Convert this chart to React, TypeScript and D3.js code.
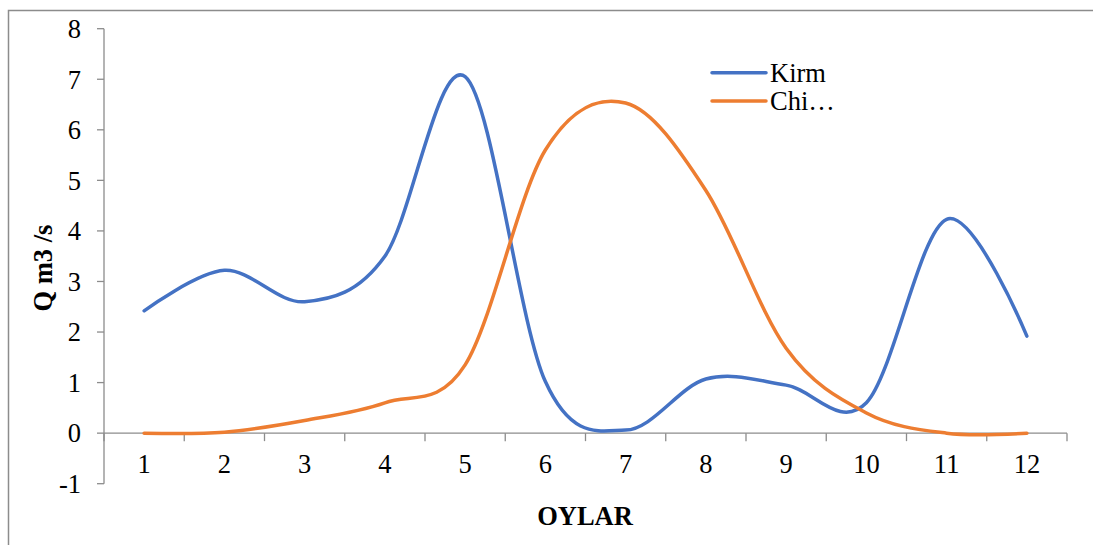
import * as d3 from "d3";

const months = ["1", "2", "3", "4", "5", "6", "7", "8", "9", "10", "11", "12"];
const kirm = [2.42, 3.22, 2.6, 3.5, 7.05, 1.02, 0.06, 1.07, 0.95, 0.6, 4.23, 1.92];
const chiqim = [0, 0.02, 0.25, 0.6, 1.35, 5.6, 6.53, 4.8, 1.68, 0.4, 0, 0];
const yTicks = [-1, 0, 1, 2, 3, 4, 5, 6, 7, 8];

const series = [
  { name: "Kirm", values: kirm, color: "#4472C4" },
  { name: "Chi…", values: chiqim, color: "#ED7D31" },
];

const W = 1093;
const H = 545;
const axisColor = "#8c8c8c";
const font = "'Liberation Serif', 'Times New Roman', serif";
const fs = 26.5;

export default function App() {
  const x = d3.scaleBand<string>().domain(months).range([104, 1067]);
  const y = d3.scaleLinear().domain([-1, 8]).range([483.7, 28.7]);
  const cx = (m: string) => (x(m) ?? 0) + x.bandwidth() / 2;

  const line = d3
    .line<number>()
    .x((_, i) => cx(months[i]))
    .y((d) => y(d))
    .curve(d3.curveCardinal.tension(0));

  const x0 = x.range()[0];
  const x1 = x.range()[1];

  return (
    <svg
      width={W}
      height={H}
      style={{ position: "absolute", left: 0, top: 0, background: "#fff" }}
      fontFamily={font}
    >
      <rect x={8.5} y={10.5} width={1200} height={600} fill="none" stroke="#8c8c8c" strokeWidth={1.5} />

      {/* y axis */}
      <line x1={x0} x2={x0} y1={y(8)} y2={y(-1)} stroke={axisColor} strokeWidth={1.3} />
      {yTicks.map((t) => (
        <g key={t}>
          <line x1={x0 - 7} x2={x0} y1={y(t)} y2={y(t)} stroke={axisColor} strokeWidth={1.3} />
          <text x={81} y={y(t)} dy="0.35em" textAnchor="end" fontSize={fs} fill="#000">
            {t}
          </text>
        </g>
      ))}

      {/* x axis at zero */}
      <line x1={x0} x2={x1} y1={y(0)} y2={y(0)} stroke={axisColor} strokeWidth={1.3} />
      {months.map((m) => (
        <line key={"t" + m} x1={x(m)!} x2={x(m)!} y1={y(0)} y2={y(0) + 8} stroke={axisColor} strokeWidth={1.3} />
      ))}
      <line x1={x1} x2={x1} y1={y(0)} y2={y(0) + 8} stroke={axisColor} strokeWidth={1.3} />
      {months.map((m) => (
        <text key={"l" + m} x={cx(m)} y={473} textAnchor="middle" fontSize={fs} fill="#000">
          {m}
        </text>
      ))}

      {/* series */}
      {series.map((s) => (
        <path
          key={s.name}
          d={line(s.values) ?? ""}
          fill="none"
          stroke={s.color}
          strokeWidth={3.5}
          strokeLinecap="round"
        />
      ))}

      {/* axis titles */}
      <text
        transform={`translate(${52},${268}) rotate(-90)`}
        textAnchor="middle"
        fontSize={fs}
        fontWeight="bold"
        fill="#000"
      >
        Q m3 /s
      </text>
      <text x={585} y={525} textAnchor="middle" fontSize={fs} fontWeight="bold" fill="#000">
        OYLAR
      </text>

      {/* legend */}
      {series.map((s, i) => (
        <g key={"lg" + s.name} transform={`translate(0,${72.7 + i * 28.3})`}>
          <line x1={712} x2={766} y1={0} y2={0} stroke={s.color} strokeWidth={3.5} strokeLinecap="round" />
          <text x={770} y={0} dy="0.35em" fontSize={fs} fill="#000">
            {s.name}
          </text>
        </g>
      ))}
    </svg>
  );
}
